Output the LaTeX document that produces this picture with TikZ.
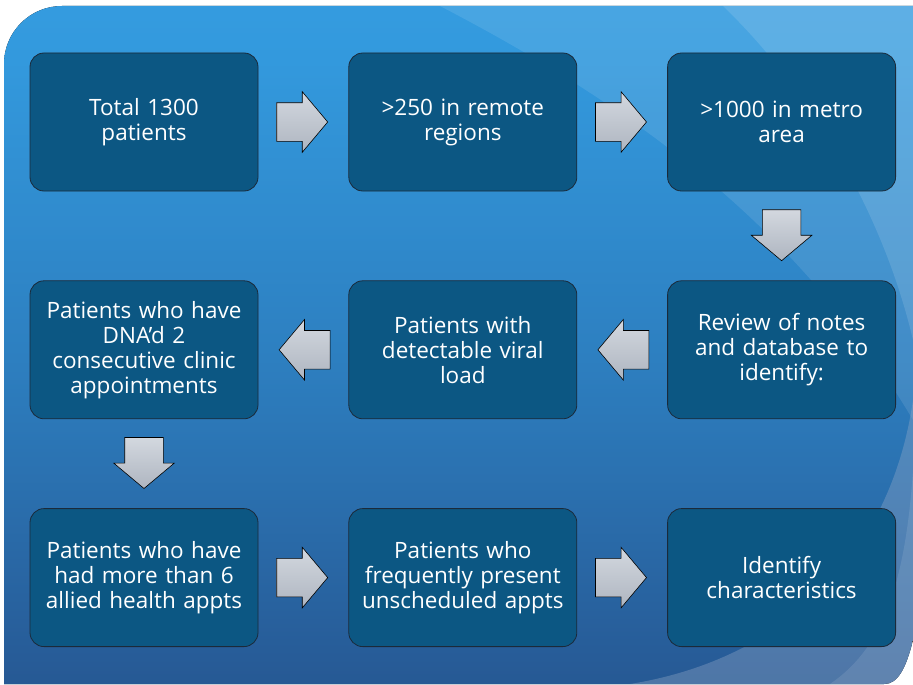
\documentclass[tikz,border=0pt]{standalone}
\usepackage{fontspec}
\setmainfont{Open Sans}
\usetikzlibrary{positioning,calc,shapes.arrows}

\definecolor{boxblue}{HTML}{0C5783}
\definecolor{boxline}{HTML}{1B2A3A}
\definecolor{bevel}{HTML}{6DB2DC}
\definecolor{arrowtop}{HTML}{D3D8DF}
\definecolor{arrowbot}{HTML}{AEB5C0}
\definecolor{bgtop}{HTML}{3AABEC}
\definecolor{bghigh}{HTML}{3399DD}
\definecolor{bgmid}{HTML}{2D7FC0}
\definecolor{bglow}{HTML}{275C98}
\definecolor{bgbot}{HTML}{1C3460}
\definecolor{swoosh}{HTML}{9AAECB}

\pgfdeclareverticalshading{slidebg}{100bp}{color(0bp)=(bgbot); color(27bp)=(bglow); color(49bp)=(bgmid); color(71bp)=(bghigh); color(100bp)=(bgtop)}

\begin{document}
\begin{tikzpicture}[x=1pt,y=1pt,
    stepbox/.style={draw=boxline, line width=0.8pt, fill=boxblue, rounded corners=14pt,
      minimum width=228pt, minimum height=138pt, text width=218pt, align=center,
      text=white, font=\fontsize{22.5}{25}\selectfont,
      append after command={\pgfextra{\draw[bevel, line width=1.2pt, rounded corners=10pt, opacity=.75]
        ([shift={(4pt,4pt)}]\tikzlastnode.south west) rectangle ([shift={(-4pt,-4pt)}]\tikzlastnode.north east);}}},
    flow/.style={single arrow, draw=black, line width=0.6pt, top color=arrowtop, bottom color=arrowbot,
      inner xsep=0pt, inner ysep=19pt, minimum height=51pt, anchor=tail,
      single arrow head extend=11pt, single arrow tip angle=100},
    node distance=89pt and 90pt]
  \useasboundingbox (0,0) rectangle (913,-685);

  % slide background with the rounded top left corner
  \fill[shading=slidebg] (4,-684) -- (4,-64) arc[start angle=180, end angle=90, radius=58pt]
    -- (913,-6) -- (913,-640) .. controls (906,-668) and (898,-684) .. (884,-684) -- cycle;
  \begin{scope}
    \clip (4,-684) -- (4,-64) arc[start angle=180, end angle=90, radius=58pt]
      -- (913,-6) -- (913,-640) .. controls (906,-668) and (898,-684) .. (884,-684) -- cycle;
    \fill[white, opacity=.1] (440,-6) .. controls (640,-110) and (800,-230) .. (913,-420) -- (913,-6) -- cycle;
    \fill[white, opacity=.12] (723,-6) .. controls (800,-80) and (880,-200) .. (913,-340) -- (913,-6) -- cycle;
    \fill[swoosh, opacity=.35] (913,-400) .. controls (890,-560) and (780,-660) .. (630,-684) -- (913,-684) -- cycle;
    \fill[white, opacity=.1] (913,-470) .. controls (905,-590) and (880,-650) .. (830,-684) -- (913,-684) -- cycle;
  \end{scope}

  % the steps
  \node[stepbox] (total) at (144,-122) {Total 1300\\patients};
  \node[stepbox, right=of total] (remote) {>250 in remote\\regions};
  \node[stepbox, right=of remote] (metro) {>1000 in metro\\area};
  \node[stepbox, below=of metro] (review) {Review of notes\\and database to\\identify:};
  \node[stepbox, left=of review] (viral) {Patients with\\detectable viral\\load};
  \node[stepbox, left=of viral] (dna) {Patients who have\\DNA’d 2\\consecutive clinic\\appointments};
  \node[stepbox, below=of dna] (allied) {Patients who have\\had more than 6\\allied health appts};
  \node[stepbox, right=of allied] (unsched) {Patients who\\frequently present\\unscheduled appts};
  \node[stepbox, right=of unsched] (ident) {Identify\\characteristics};

  % block arrows, tail 18pt off the box they leave
  \node[flow] (a1) at ([xshift=18pt]total.east) {};
  \node[flow] (a2) at ([xshift=18pt]remote.east) {};
  \node[flow, rotate=270] (a3) at ([yshift=-18pt]metro.south) {};
  \node[flow, rotate=180] (a4) at ([xshift=-18pt]review.west) {};
  \node[flow, rotate=180] (a5) at ([xshift=-18pt]viral.west) {};
  \node[flow, rotate=270] (a6) at ([yshift=-18pt]dna.south) {};
  \node[flow] (a7) at ([xshift=18pt]allied.east) {};
  \node[flow] (a8) at ([xshift=18pt]unsched.east) {};
\end{tikzpicture}
\end{document}
